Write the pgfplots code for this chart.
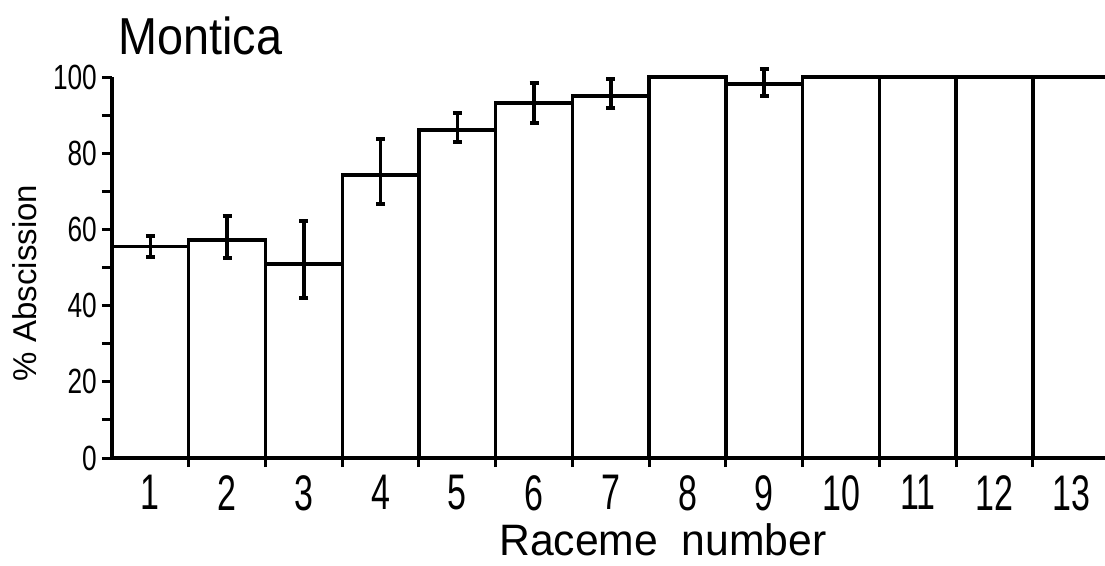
\documentclass[border=0pt]{standalone}
\usepackage{fontspec}
\setmainfont{Liberation Sans}
\newfontfamily\xtfont[FakeStretch=0.68]{Liberation Sans}
\newfontfamily\ytfont[FakeStretch=0.75]{Liberation Sans}
\newfontfamily\lbfont[FakeStretch=0.9]{Liberation Sans}
\newfontfamily\xlfont[FakeStretch=0.97]{Liberation Sans}
\usepackage{pgfplots}
\pgfplotsset{compat=1.18}
\begin{document}
\begin{tikzpicture}
\useasboundingbox (0,0) rectangle (1105pt,565pt);
\begin{axis}[
  at={(112pt,107pt)}, anchor=south west,
  scale only axis, width=993pt, height=392.4pt,
  xmin=0.5, xmax=13.44, ymin=0, ymax=103,
  axis lines=left,
  axis line style={-, line width=3.5pt},
  y axis line style={shorten >=11.4pt},
  major tick length=10pt, minor tick length=10pt,
  xtick={1,...,13},
  xticklabels={1,2,3,4,5,6,7,8,9,10,11,12,13},
  x tick label style={font=\xtfont\fontsize{50}{54}\selectfont, inner sep=4pt, yshift=-3pt},
  xtick style={draw=none},
  extra x ticks={1.5,2.5,...,12.5},
  extra x tick labels={},
  extra x tick style={xtick style={draw=black, line width=3pt}, major tick length=18pt, tick align=center},
  ytick={0,20,40,60,80,100},
  yticklabels={0,20,40,60,80,100},
  minor ytick={10,30,50,70,90},
  y tick label style={font=\ytfont\fontsize{35}{40}\selectfont, inner sep=5pt},
  ytick style={line width=3pt, black},
  ytick align=outside,
  ybar, bar width=1, bar shift=0pt,
]
\addplot[draw=black, fill=none, line width=3.4pt,
  error bars/.cd, y dir=both, y explicit,
  error bar style={line width=3.6pt},
  error mark options={line width=4pt, mark size=4.5pt, rotate=90}]
  coordinates {
  (1,55.5) += (0,2.8) -= (0,2.7)
  (2,57.2) += (0,6.3) -= (0,4.7)
  (3,50.9) += (0,11.3) -= (0,8.9)
  (4,74.3) += (0,9.4) -= (0,7.6)
  (5,86.1) += (0,4.4) -= (0,3.1)
  (6,93.2) += (0,5.2) -= (0,5.3)
  (7,95.0) += (0,4.5) -= (0,3.1)
  (8,100) += (0,0) -= (0,0)
  (9,98.2) += (0,3.8) -= (0,3.2)
  (10,100) += (0,0) -= (0,0)
  (11,100) += (0,0) -= (0,0)
  (12,100) += (0,0) -= (0,0)
  (13,100) += (0,0) -= (0,0)
  };
\end{axis}
\node[anchor=base west, inner sep=0pt, font=\lbfont\fontsize{52}{56}\selectfont] at (118pt,510pt) {Montica};
\node[rotate=90, inner sep=0pt, font=\fontsize{33}{38}\selectfont] at (25pt,282pt) {\% Abscission};
\node[anchor=base, inner sep=0pt, font=\xlfont\fontsize{44}{50}\selectfont] at (663pt,10pt) {Raceme\ \ number};
\end{tikzpicture}
\end{document}
